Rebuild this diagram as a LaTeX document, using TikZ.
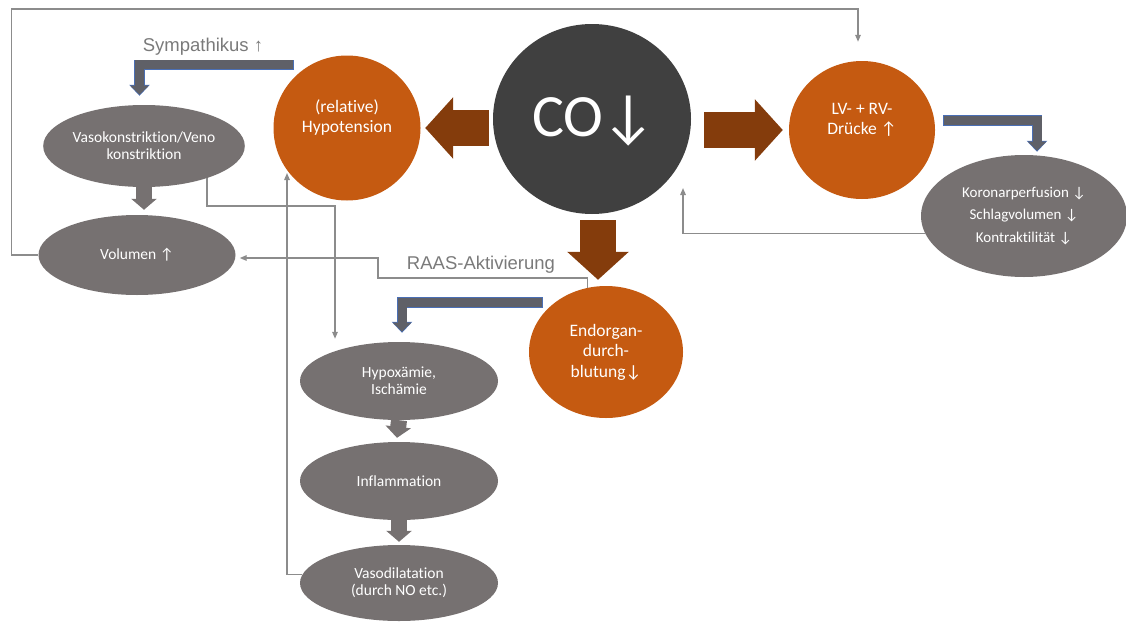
\documentclass[tikz,border=0pt]{standalone}
\usepackage{fontspec}
\setmainfont[Ligatures={NoCommon}]{Carlito}
\newfontfamily\labelfont{Liberation Sans}
\usetikzlibrary{shapes.geometric,arrows.meta,calc}
\definecolor{orgorange}{HTML}{C55A11}
\definecolor{orgbrown}{HTML}{843C0C}
\definecolor{ellgray}{HTML}{767171}
\definecolor{codark}{HTML}{404040}
\definecolor{bentgray}{HTML}{5F6067}
\definecolor{bentblue}{HTML}{4A6FB5}
\definecolor{linegray}{HTML}{8C8C8C}
\definecolor{lblgray}{HTML}{7A7A7A}
\tikzset{
	orangecirc/.style={ellipse,fill=orgorange,inner sep=0pt},
	grayell/.style={ellipse,fill=ellgray,inner sep=0pt,minimum width=197pt,minimum height=80pt,text=white,align=center,font=\fontsize{15.5}{17}\selectfont},
	wtext/.style={text=white,align=center,font=\fontsize{17.5}{20}\selectfont},
	bigarrow/.style={orgbrown,line width=36pt,-{Triangle[length=28pt,width=60pt]}},
	smallarrow/.style={ellgray,line width=16pt,-{Triangle[length=11pt,width=25pt]}},
	bentout/.style={bentblue,line width=10.5pt,line join=miter,-{Triangle[length=11pt,width=20pt]}},
	bentin/.style={bentgray,line width=9pt,line join=miter,shorten <=0.75pt,shorten >=1.1pt,-{Triangle[length=9.1pt,width=17.8pt]}},
	fb/.style={linegray,line width=1.4pt,-{Triangle[length=7pt,width=5.5pt]}},
	lbl/.style={text=lblgray,font=\labelfont\fontsize{18.5}{20}\selectfont}
}
\begin{document}
\begin{tikzpicture}[x=1pt,y=-1pt]
	\useasboundingbox (0,0) rectangle (1126,621);
	\node[ellipse,fill=codark,minimum width=198pt,minimum height=190pt] (co) at (592,119) {};
	\node[text=white,font=\fontsize{60}{60}\selectfont] (co-t) at (594,121) {CO\kern-2pt↓};
	\node[orangecirc,minimum width=147pt,minimum height=145pt] (hyp) at (347,128) {};
	\node[wtext] (hyp-t) at ($(hyp.center)+(0,-10)$) {(relative)\\Hypotension};
	\node[orangecirc,minimum width=146pt,minimum height=138pt] (lv) at (862,130) {};
	\node[wtext] (lv-t) at ($(lv.center)+(0,-10)$) {LV- + RV-\\Drücke ↑};
	\node[orangecirc,minimum width=154pt,minimum height=132pt,wtext,font=\fontsize{17.5}{20.5}\selectfont] (endo) at (606,352) {Endorgan-\\durch-\\blutung↓};
	\node[grayell,minimum width=206pt,minimum height=122pt,font=\fontsize{15}{22.5}\selectfont] (kor) at (1024,216) {Koronarperfusion ↓\\Schlagvolumen ↓\\Kontraktilität ↓};
	\node[grayell,minimum height=82pt] (vaso) at (144,146) {Vasokonstriktion/Veno\\konstriktion};
	\node[grayell] (vol) at (137,255) {Volumen ↑};
	\node[grayell,minimum width=198pt,minimum height=78pt] (hyx) at (399,381) {Hypoxämie,\\Ischämie};
	\node[grayell,minimum width=198pt,minimum height=78pt] (infl) at (399,481) {Inflammation};
	\node[grayell,minimum width=198pt,minimum height=76pt] (vdil) at (399,583) {Vasodilatation\\(durch NO etc.)};
	\node[lbl] (sym-l) at (203,47) {Sympathikus ↑};
	\node[lbl] (raas-l) at (481,265) {RAAS-Aktivierung};

	\draw[bigarrow] ($(co.west |- hyp.center)+(-4,0)$) -- ($(hyp.east)+(4.5,0)$);
	\draw[bigarrow] ($(co.east |- lv.center)+(13,0)$) -- ($(lv.west)+(-6,0)$);
	\draw[bigarrow] ($(co.south)+(6,6)$) -- ($(endo.north)+(-8,-6)$);
	\draw[smallarrow] (vaso.south) -- ($(vol.north)+(7,-5)$);
	\draw[smallarrow] (hyx.south) -- ($(infl.north)+(-2,-4)$);
	\draw[smallarrow] (infl.south) -- ($(vdil.north)+(0,-3)$);

	\foreach \s in {bentout,bentin} {
		\draw[\s] ($(hyp.north)+(-53,9.5)$) -| ($(vaso.north)+(-4.5,-9)$);
		\draw[\s] ($(lv.east)+(8,-9.5)$) -| ($(kor.north)+(13,-3)$);
		\draw[\s] ($(endo.north)+(-63,16.5)$) -| ($(hyx.north)+(3,-9)$);
	}

	\coordinate (lvin) at ($(lv.north)+(-4,-19)$);
	\coordinate (coin) at ($(co.center)+(91,69)$);
	\coordinate (hyxin) at ($(hyx.north)+(-64,-3)$);
	\coordinate (hypin) at ($(hyp.center)+(-60,45)$);
	\draw[fb] (vol.west) -- ++(-27,0) |- ($(lvin)+(0,-33)$) -- (lvin);
	\draw[fb] (kor.190) -| (coin);
	\draw[fb] (endo.106) |- (378,278) |- ($(vol.east)+(4,3)$);
	\draw[fb] (vaso.-27) |- ($(hyxin)+(0,-133)$) -- (hyxin);
	\draw[fb] (vdil.175) -| (hypin);
\end{tikzpicture}
\end{document}
